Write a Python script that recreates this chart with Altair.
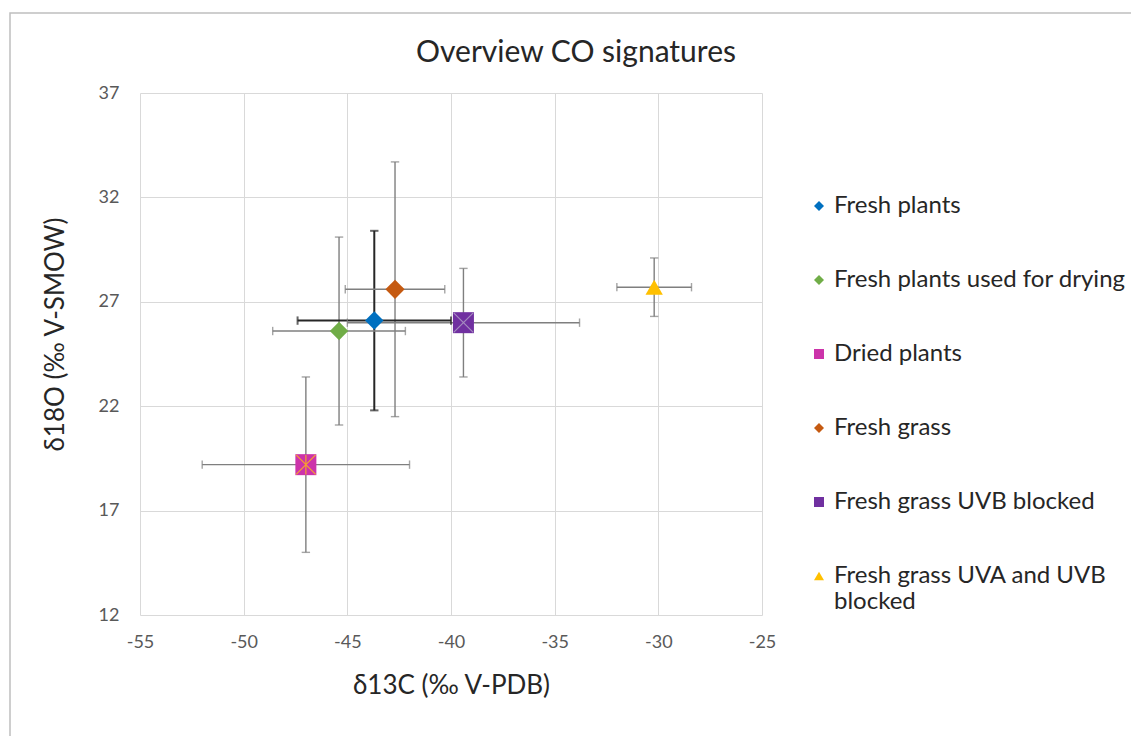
import altair as alt
import pandas as pd

series = ["Fresh plants", "Fresh plants used for drying", "Dried plants",
          "Fresh grass", "Fresh grass UVB blocked", "Fresh grass UVA and UVB blocked"]
d13c = [-43.7, -45.4, -47.0, -42.7, -39.4, -30.2]
d18o = [26.1, 25.6, 19.2, 27.6, 26.0, 27.7]
d13c_err = [3.7, 3.2, 5.0, 2.4, 5.6, 1.8]
d18o_err = [4.3, 4.5, 4.2, 6.1, 2.6, 1.4]

colors = ["#0070C0", "#70AD47", "#CC33AA", "#C55A11", "#7030A0", "#FFC000"]
shapes = ["diamond", "diamond", "square", "diamond", "square", "triangle-up"]
marker_sizes = [340, 340, 441, 370, 441, 300]
bar_colors = ["#262626", "#7F7F7F", "#7F7F7F", "#7F7F7F", "#7F7F7F", "#7F7F7F"]
bar_widths = [2.0, 1.4, 1.4, 1.4, 1.4, 1.4]

df = pd.DataFrame({
    "series": series, "x": d13c, "y": d18o,
    "xlo": [a - b for a, b in zip(d13c, d13c_err)],
    "xhi": [a + b for a, b in zip(d13c, d13c_err)],
    "ylo": [a - b for a, b in zip(d18o, d18o_err)],
    "yhi": [a + b for a, b in zip(d18o, d18o_err)],
    "msize": marker_sizes, "barcolor": bar_colors, "barwidth": bar_widths,
})

FONT = "Lato"
xs = alt.Scale(domain=[-55, -25], nice=False, zero=False)
ys = alt.Scale(domain=[12, 37], nice=False, zero=False)

base = alt.Chart(df)

X = alt.X("x:Q", scale=xs, axis=alt.Axis(
    values=[-55, -50, -45, -40, -35, -30, -25], title="δ13C (‰ V-PDB)",
    labelExpr="toString(datum.value)", labelFlush=False, labelOverlap=False,
    titleFontSize=26, titleFont=FONT, titleFontWeight="normal", titleColor="#262626",
    titleY=78, titleBaseline="alphabetic", labelPadding=18))
Y = alt.Y("y:Q", scale=ys, axis=alt.Axis(
    values=[12, 17, 22, 27, 32, 37], title="δ18O (‰ V-SMOW)",
    labelFlush=False, labelOverlap=False,
    titleFontSize=26, titleFont=FONT, titleFontWeight="normal", titleColor="#262626",
    titleAngle=270, titleX=-85, titleY=241, titleAlign="center", titleBaseline="middle",
    labelPadding=21))

stroke_id = alt.Stroke("barcolor:N", scale=None, legend=None)
sw = alt.StrokeWidth("barwidth:Q", scale=None, legend=None)

vbar = base.mark_rule().encode(x=alt.X("x:Q", scale=xs), y=alt.Y("ylo:Q", scale=ys), y2="yhi:Q",
                               stroke=stroke_id, strokeWidth=sw)
hbar = base.mark_rule().encode(y=alt.Y("y:Q", scale=ys), x=alt.X("xlo:Q", scale=xs), x2="xhi:Q",
                               stroke=stroke_id, strokeWidth=sw)
cap_top = base.mark_point(shape="stroke", size=70, filled=False).encode(
    x=alt.X("x:Q", scale=xs), y=alt.Y("yhi:Q", scale=ys), stroke=stroke_id, strokeWidth=sw)
cap_bot = base.mark_point(shape="stroke", size=70, filled=False).encode(
    x=alt.X("x:Q", scale=xs), y=alt.Y("ylo:Q", scale=ys), stroke=stroke_id, strokeWidth=sw)
cap_left = base.mark_point(shape="stroke", size=70, filled=False, angle=90).encode(
    x=alt.X("xlo:Q", scale=xs), y=alt.Y("y:Q", scale=ys), stroke=stroke_id, strokeWidth=sw)
cap_right = base.mark_point(shape="stroke", size=70, filled=False, angle=90).encode(
    x=alt.X("xhi:Q", scale=xs), y=alt.Y("y:Q", scale=ys), stroke=stroke_id, strokeWidth=sw)

leg = alt.Legend(
    title=None, orient="none", legendX=667, legendY=101,
    labelFont=FONT, labelFontSize=24, labelColor="#262626",
    symbolSize=100, symbolStrokeWidth=0, labelOffset=3,
    rowPadding=50, labelLimit=400,
    labelExpr="datum.label == 'Fresh grass UVA and UVB blocked' ? ['Fresh grass UVA and UVB', 'blocked'] : datum.label")

points = base.mark_point(filled=True, opacity=1).encode(
    x=X, y=Y,
    color=alt.Color("series:N", sort=series,
                    scale=alt.Scale(domain=series, range=colors), legend=leg),
    shape=alt.Shape("series:N", sort=series,
                    scale=alt.Scale(domain=series, range=shapes), legend=leg),
    size=alt.Size("msize:Q", scale=None, legend=None),
)

dried = df[df["series"] == "Dried plants"]
uvb = df[df["series"] == "Fresh grass UVB blocked"]
xmark_dried = alt.Chart(dried).mark_point(
    filled=False, size=380, strokeWidth=1.2, opacity=1, color="#F5A030",
    shape="M-1,-1L1,1M-1,1L1,-1M0,-1L0,1").encode(
    x=alt.X("x:Q", scale=xs), y=alt.Y("y:Q", scale=ys))
xmark_uvb = alt.Chart(uvb).mark_point(
    filled=False, size=380, strokeWidth=1.2, opacity=1, color="#A58CC0",
    shape="M-1,-1L1,1M-1,1L1,-1").encode(
    x=alt.X("x:Q", scale=xs), y=alt.Y("y:Q", scale=ys))

single = alt.Chart(pd.DataFrame({"a": [0]}))
frame = single.mark_rect(fill=None, stroke="#BFBFBF", strokeWidth=1.5).encode(
    x=alt.value(-130), x2=alt.value(1200), y=alt.value(-80), y2=alt.value(800))
title = single.mark_text(text="Overview CO signatures", font=FONT, fontSize=30,
                         color="#262626", align="center", baseline="alphabetic").encode(
    x=alt.value(436), y=alt.value(-31))

chart = alt.layer(frame, title, vbar, hbar, cap_top, cap_bot, cap_left, cap_right,
                  points, xmark_dried, xmark_uvb).properties(
    width=622, height=522,
    autosize=alt.AutoSizeParams(type="none"),
    padding={"left": 140, "top": 93, "right": 369, "bottom": 121},
    background="white",
).configure_axis(
    grid=True, gridColor="#D9D9D9", gridWidth=1, domain=False, ticks=False,
    labelFont=FONT, labelFontSize=18, labelColor="#595959",
).configure_view(stroke=None)

chart.save("out.html", embed_options={"renderer": "svg", "actions": False})
